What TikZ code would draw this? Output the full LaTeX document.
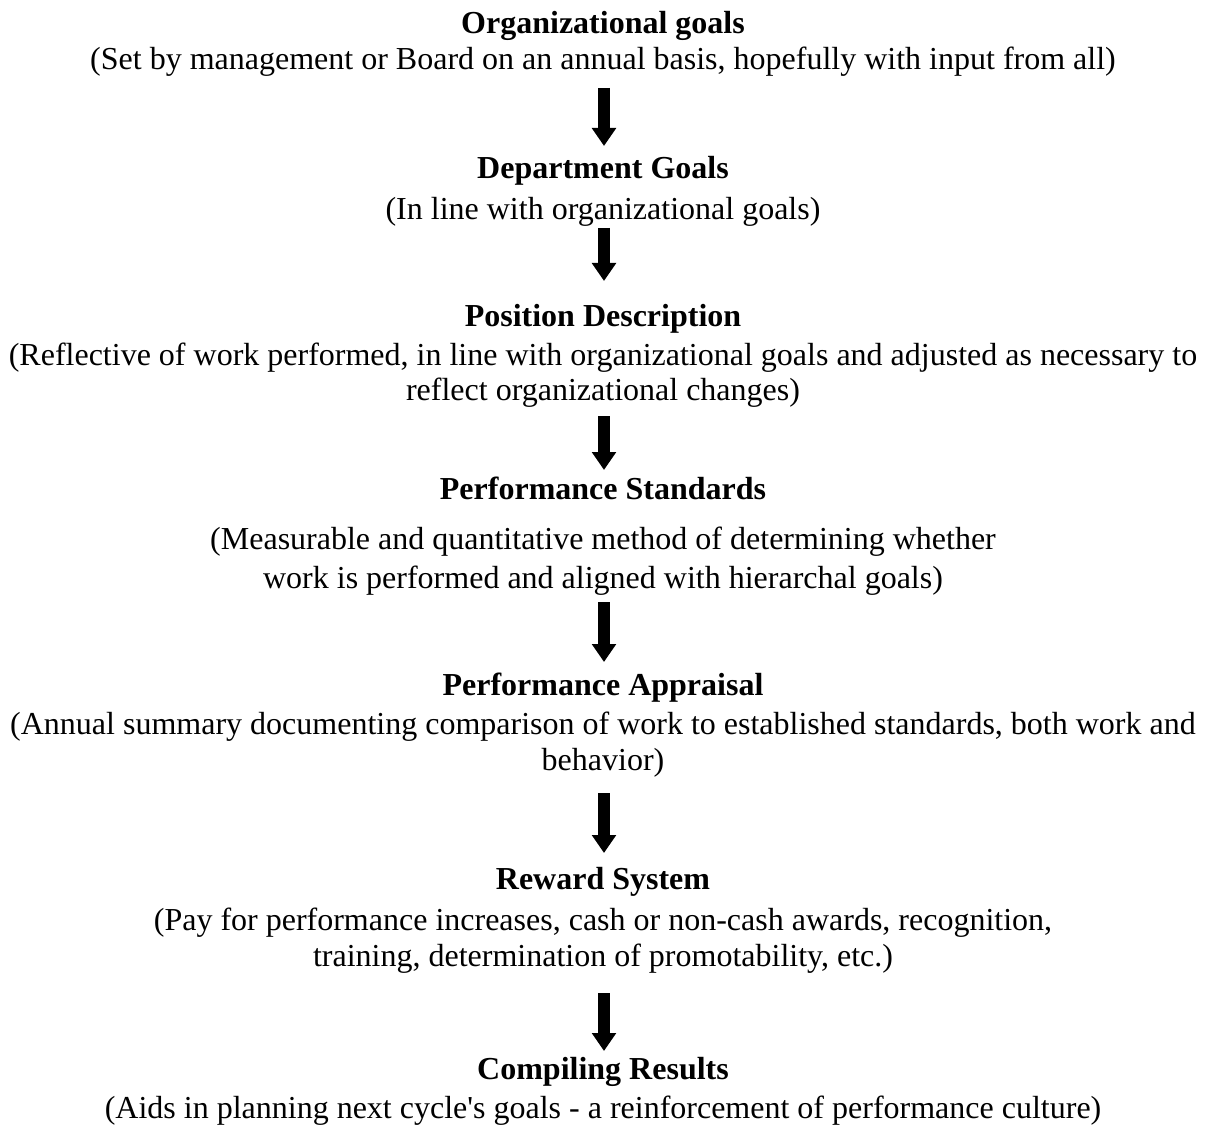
\documentclass[tikz,border=0pt]{standalone}
\usepackage{fontspec}
\setmainfont{Liberation Serif}
\usetikzlibrary{arrows.meta}
\begin{document}
\begin{tikzpicture}[x=0.75pt,y=-0.75pt,
  line/.style={anchor=base,inner sep=0pt,font=\fontsize{24}{28}\selectfont},
  head/.style={line,font=\fontsize{24}{28}\selectfont\bfseries},
  flow/.style={line width=9pt,-{Triangle[width=17.5pt,length=13.5pt]}}]
\useasboundingbox (0,0) rectangle (1206,1130);
\def\cx{603}
% Organizational goals
\node[head] (t1) at (\cx,34) {Organizational goals};
\node[line] (d1) at (\cx,70) {(Set by management or Board on an annual basis, hopefully with input from all)};
% Department goals
\node[head] (t2) at (\cx,179) {Department Goals};
\node[line] (d2) at (\cx,220) {(In line with organizational goals)};
% Position description
\node[head] (t3) at (\cx,327) {Position Description};
\node[line] (d3a) at (\cx,366) {(Reflective of work performed, in line with organizational goals and adjusted as necessary to};
\node[line] (d3b) at (\cx,401) {reflect organizational changes)};
% Performance standards
\node[head] (t4) at (\cx,499) {Performance Standards};
\node[line] (d4a) at (\cx,549) {(Measurable and quantitative method of determining whether};
\node[line] (d4b) at (\cx,588) {work is performed and aligned with hierarchal goals)};
% Performance appraisal
\node[head] (t5) at (\cx,695) {Performance Appraisal};
\node[line] (d5a) at (\cx,734) {(Annual summary documenting comparison of work to established standards, both work and};
\node[line] (d5b) at (\cx,770) {behavior)};
% Reward system
\node[head] (t6) at (\cx,889) {Reward System};
\node[line] (d6a) at (\cx,930) {(Pay for performance increases, cash or non-cash awards, recognition,};
\node[line] (d6b) at (\cx,966) {training, determination of promotability, etc.)};
% Compiling results
\node[head] (t7) at (\cx,1079) {Compiling Results};
\node[line] (d7) at (\cx,1118) {(Aids in planning next cycle\textquotesingle s goals - a reinforcement of performance culture)};
% arrow ends
\coordinate (a1s) at (604,88);   \coordinate (a1e) at (604,146);
\coordinate (a2s) at (604,228);  \coordinate (a2e) at (604,281);
\coordinate (a3s) at (604,416);  \coordinate (a3e) at (604,470);
\coordinate (a4s) at (604,602);  \coordinate (a4e) at (604,662);
\coordinate (a5s) at (604,793);  \coordinate (a5e) at (604,853);
\coordinate (a6s) at (604,993);  \coordinate (a6e) at (604,1051);
\foreach \i in {1,...,6} \draw[flow] (a\i s) -- (a\i e);
\end{tikzpicture}
\end{document}
